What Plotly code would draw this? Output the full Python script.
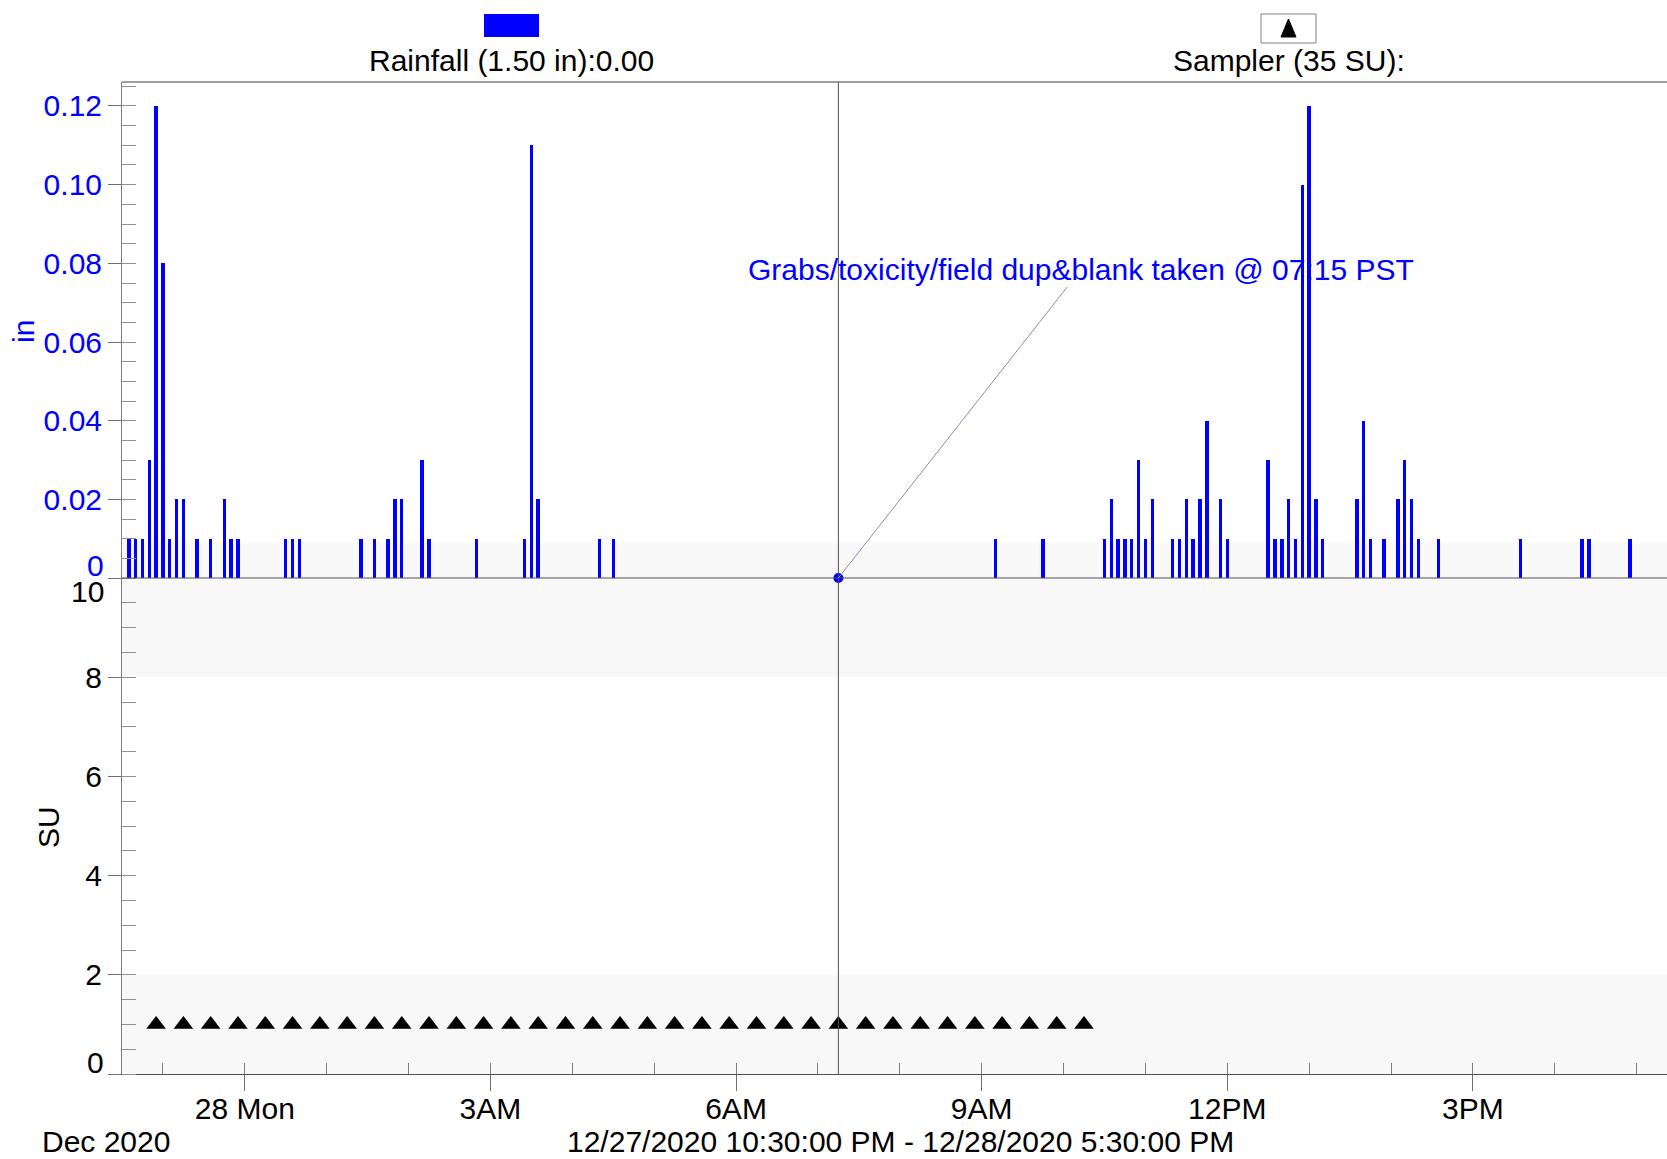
import plotly.graph_objects as go

# ---------------- data ----------------
rain_times = [
    "2020-12-27 22:35", "2020-12-27 22:40", "2020-12-27 22:45", "2020-12-27 22:50",
    "2020-12-27 22:55", "2020-12-27 23:00", "2020-12-27 23:05", "2020-12-27 23:10",
    "2020-12-27 23:15", "2020-12-27 23:25", "2020-12-27 23:35", "2020-12-27 23:45",
    "2020-12-27 23:50", "2020-12-27 23:55",
    "2020-12-28 00:30", "2020-12-28 00:35", "2020-12-28 00:40",
    "2020-12-28 01:25", "2020-12-28 01:35", "2020-12-28 01:45", "2020-12-28 01:50",
    "2020-12-28 01:55", "2020-12-28 02:10", "2020-12-28 02:15", "2020-12-28 02:50",
    "2020-12-28 03:25", "2020-12-28 03:30", "2020-12-28 03:35",
    "2020-12-28 04:20", "2020-12-28 04:30",
    "2020-12-28 09:10", "2020-12-28 09:45",
    "2020-12-28 10:30", "2020-12-28 10:35", "2020-12-28 10:40", "2020-12-28 10:45",
    "2020-12-28 10:50", "2020-12-28 10:55", "2020-12-28 11:00", "2020-12-28 11:05",
    "2020-12-28 11:20", "2020-12-28 11:25", "2020-12-28 11:30", "2020-12-28 11:35",
    "2020-12-28 11:40", "2020-12-28 11:45", "2020-12-28 11:55", "2020-12-28 12:00",
    "2020-12-28 12:30", "2020-12-28 12:35", "2020-12-28 12:40", "2020-12-28 12:45",
    "2020-12-28 12:50", "2020-12-28 12:55", "2020-12-28 13:00", "2020-12-28 13:05",
    "2020-12-28 13:10",
    "2020-12-28 13:35", "2020-12-28 13:40", "2020-12-28 13:45", "2020-12-28 13:55",
    "2020-12-28 14:05", "2020-12-28 14:10", "2020-12-28 14:15", "2020-12-28 14:20",
    "2020-12-28 14:35",
    "2020-12-28 15:35", "2020-12-28 16:20", "2020-12-28 16:25", "2020-12-28 16:55",
]
rain_values = [
    0.01, 0.01, 0.01, 0.03,
    0.12, 0.08, 0.01, 0.02,
    0.02, 0.01, 0.01, 0.02,
    0.01, 0.01,
    0.01, 0.01, 0.01,
    0.01, 0.01, 0.01, 0.02,
    0.02, 0.03, 0.01, 0.01,
    0.01, 0.11, 0.02,
    0.01, 0.01,
    0.01, 0.01,
    0.01, 0.02, 0.01, 0.01,
    0.01, 0.03, 0.01, 0.02,
    0.01, 0.01, 0.02, 0.01,
    0.02, 0.04, 0.02, 0.01,
    0.03, 0.01, 0.01, 0.02,
    0.01, 0.10, 0.12, 0.02,
    0.01,
    0.02, 0.04, 0.01, 0.01,
    0.02, 0.03, 0.02, 0.01,
    0.01,
    0.01, 0.01, 0.01, 0.01,
]
sampler_times = [
    "2020-12-27 22:55", "2020-12-27 23:15", "2020-12-27 23:35", "2020-12-27 23:55",
    "2020-12-28 00:15", "2020-12-28 00:35", "2020-12-28 00:55", "2020-12-28 01:15",
    "2020-12-28 01:35", "2020-12-28 01:55", "2020-12-28 02:15", "2020-12-28 02:35",
    "2020-12-28 02:55", "2020-12-28 03:15", "2020-12-28 03:35", "2020-12-28 03:55",
    "2020-12-28 04:15", "2020-12-28 04:35", "2020-12-28 04:55", "2020-12-28 05:15",
    "2020-12-28 05:35", "2020-12-28 05:55", "2020-12-28 06:15", "2020-12-28 06:35",
    "2020-12-28 06:55", "2020-12-28 07:15", "2020-12-28 07:35", "2020-12-28 07:55",
    "2020-12-28 08:15", "2020-12-28 08:35", "2020-12-28 08:55", "2020-12-28 09:15",
    "2020-12-28 09:35", "2020-12-28 09:55", "2020-12-28 10:15",
]
sampler_values = [1] * len(sampler_times)

x_tick_vals = ["2020-12-28 00:00", "2020-12-28 03:00", "2020-12-28 06:00",
               "2020-12-28 09:00", "2020-12-28 12:00", "2020-12-28 15:00"]
x_tick_text = ["28 Mon", "3AM", "6AM", "9AM", "12PM", "3PM"]
rain_tick_vals = [0.02, 0.04, 0.06, 0.08, 0.10, 0.12]
su_tick_vals = [2, 4, 6, 8]

event_time = "2020-12-28 07:15"
event_text = "Grabs/toxicity/field dup&blank taken @ 07:15 PST"
rain_legend = "Rainfall (1.50 in):0.00"
sampler_legend = "Sampler (35 SU):"
range_text = "12/27/2020 10:30:00 PM - 12/28/2020 5:30:00 PM"
month_text = "Dec 2020"

# ---------------- layout geometry ----------------
W, H = 1667, 1159
ML, MR, MT, MB = 122, 0, 82, 85
PW = W - ML - MR
PH = H - MT - MB


def px(x):
    return (x - ML) / PW


def py(y):
    return (H - MB - y) / PH


FONT = "Liberation Sans, Arial, sans-serif"
FS = 30
BLUE = "#0000ff"

fig = go.Figure()

fig.add_trace(go.Bar(
    x=rain_times, y=rain_values, xaxis="x", yaxis="y",
    marker=dict(color=BLUE, line=dict(width=0)), width=150000,
    showlegend=False, hoverinfo="x+y",
))
fig.add_trace(go.Scatter(
    x=[event_time], y=[0], xaxis="x", yaxis="y", mode="markers",
    marker=dict(color=BLUE, size=10), cliponaxis=False, showlegend=False,
))
fig.add_trace(go.Scatter(
    x=sampler_times, y=sampler_values, xaxis="x2", yaxis="y2", mode="markers",
    marker=dict(symbol="triangle-up", color="black", size=17),
    showlegend=False,
))

x_range = ["2020-12-27 22:30", "2020-12-28 17:22:16"]

fig.update_layout(
    width=W, height=H,
    margin=dict(l=ML, r=MR, t=MT, b=MB, pad=0),
    paper_bgcolor="white", plot_bgcolor="white",
    font=dict(family=FONT, size=FS, color="black"),
    bargap=0,
    xaxis=dict(domain=[0, 1], anchor="y", range=x_range, type="date",
               matches="x2", showticklabels=False, ticks="", showgrid=False,
               showline=False, zeroline=False),
    yaxis=dict(domain=[0.5, 1], anchor="x", range=[0, 0.1261],
               tickvals=[0] + rain_tick_vals,
               ticktext=[""] + ["%.2f" % v for v in rain_tick_vals],
               tickfont=dict(color=BLUE, size=FS, family=FONT),
               ticks="outside", ticklen=13, tickcolor="#707070", tickwidth=1,
               minor=dict(ticks="inside", ticklen=14, dtick=0.005, tick0=0,
                          tickcolor="#909090", tickwidth=1),
               showline=True, linecolor="#808080", linewidth=1,
               showgrid=False, zeroline=False),
    xaxis2=dict(domain=[0, 1], anchor="y2", range=x_range, type="date",
                tickvals=x_tick_vals, ticktext=x_tick_text,
                tickfont=dict(size=FS, family=FONT, color="black"),
                ticks="outside", ticklen=16, tickcolor="#707070", tickwidth=1,
                ticklabelstandoff=-8,
                minor=dict(ticks="inside", ticklen=11, dtick=3600000,
                           tick0="2020-12-27 23:00", tickcolor="#808080", tickwidth=1),
                showline=True, linecolor="#505050", linewidth=1,
                showgrid=False, zeroline=False),
    yaxis2=dict(domain=[0, 0.5], anchor="x2", range=[0, 10],
                tickvals=[0] + su_tick_vals + [10],
                ticktext=[""] + [str(v) for v in su_tick_vals] + [""],
                tickfont=dict(size=FS, family=FONT, color="black"),
                ticks="outside", ticklen=13, tickcolor="#707070", tickwidth=1,
                minor=dict(ticks="inside", ticklen=14, dtick=0.5, tick0=0,
                           tickcolor="#909090", tickwidth=1),
                showline=True, linecolor="#808080", linewidth=1,
                showgrid=False, zeroline=False),
)

shapes = [
    # background bands
    dict(type="rect", xref="paper", yref="y2", x0=0, x1=1, y0=8, y1=10,
         fillcolor="#f8f8f8", line=dict(width=0), layer="below"),
    dict(type="rect", xref="paper", yref="y2", x0=0, x1=1, y0=0, y1=2,
         fillcolor="#f8f8f8", line=dict(width=0), layer="below"),
    dict(type="rect", xref="paper", yref="y", x0=0, x1=1, y0=0, y1=0.009,
         fillcolor="#f9f9f9", line=dict(width=0), layer="below"),
    # frame top line
    dict(type="line", xref="paper", yref="paper", x0=0, x1=1, y0=1, y1=1,
         line=dict(color="#a0a0a0", width=2)),
    # separator between panels
    dict(type="line", xref="paper", yref="paper", x0=0, x1=1, y0=0.5, y1=0.5,
         line=dict(color="#505050", width=1)),
    # event vertical line
    dict(type="line", xref="x", yref="paper", x0=event_time, x1=event_time,
         y0=0, y1=1, line=dict(color="#505050", width=1)),
    # legend: rainfall swatch
    dict(type="rect", xref="paper", yref="paper",
         x0=px(484), x1=px(539), y0=py(37), y1=py(14),
         fillcolor=BLUE, line=dict(width=0)),
    # legend: sampler box
    dict(type="rect", xref="paper", yref="paper",
         x0=px(1261), x1=px(1316), y0=py(43), y1=py(14),
         fillcolor="white", line=dict(color="#808080", width=1)),
    dict(type="path", xref="paper", yref="paper",
         path="M %f,%f L %f,%f L %f,%f Z" % (px(1281), py(37), px(1296), py(37),
                                             px(1288.5), py(19)),
         fillcolor="black", line=dict(color="black", width=1)),
]
fig.update_layout(shapes=shapes)


def note(x, y, text, color="black", xanchor="center", angle=0, **kw):
    return dict(x=x, y=y, xref="paper", yref="paper", text=text, showarrow=False,
                xanchor=xanchor, yanchor="middle", textangle=angle,
                font=dict(color=color, size=FS, family=FONT), **kw)


annotations = [
    dict(x=event_time, y=0, xref="x", yref="y", text=event_text,
         showarrow=True, arrowhead=0, arrowwidth=1, arrowcolor="#8a8ab0",
         ax=243, ay=-309, font=dict(color=BLUE, size=FS, family=FONT),
         standoff=0),
    # end tick labels shifted inward
    dict(x=0, y=0, xref="paper", yref="y", text="0", showarrow=False,
         xanchor="right", yanchor="middle", xshift=-16, yshift=13, height=25,
         font=dict(color=BLUE, size=FS, family=FONT)),
    dict(x=0, y=10, xref="paper", yref="y2", text="10", showarrow=False,
         xanchor="right", yanchor="middle", xshift=-16, yshift=-13, height=25,
         font=dict(color="black", size=FS, family=FONT)),
    dict(x=0, y=0, xref="paper", yref="y2", text="0", showarrow=False,
         xanchor="right", yanchor="middle", xshift=-16, yshift=12,
         font=dict(color="black", size=FS, family=FONT)),
    # axis titles
    note(px(23), py(332), "in", color=BLUE, angle=-90),
    note(px(48), py(827), "SU", angle=-90),
    # legend texts
    note(px(511), py(61), rain_legend),
    note(px(1288.5), py(61), sampler_legend),
    # bottom texts
    note(px(40), py(1141), month_text, xanchor="left"),
    note(px(900), py(1141), range_text),
]
fig.update_layout(annotations=annotations)

fig.write_html("out.html", config={"displayModeBar": False},
               post_script="document.body.style.margin='0';")
